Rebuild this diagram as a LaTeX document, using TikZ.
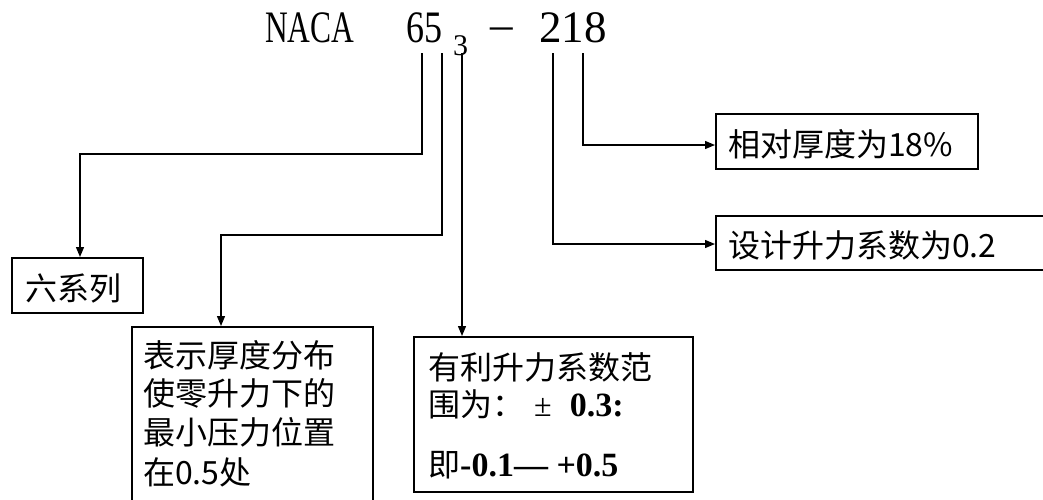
\documentclass[tikz,border=0pt]{standalone}
\usepackage{fontspec}
\usetikzlibrary{arrows.meta}
\newfontfamily\cjk{Noto Sans CJK SC}
\newfontfamily\tnr{Liberation Serif}
\newfontfamily\tnrc[FakeStretch=0.7]{Liberation Serif}
\newfontfamily\tnrd[FakeStretch=0.8]{Liberation Serif}
\begin{document}
\begin{tikzpicture}[x=1pt,y=-1pt,
  conn/.style={line width=1.3pt, -{Triangle[length=10pt,width=8pt]}},
  box/.style={draw, line width=2.4pt, inner sep=0pt},
  txt/.style={font=\cjk\fontsize{32}{39}\selectfont, anchor=base west, inner sep=0pt},
  bnum/.style={font=\tnr\bfseries\fontsize{34}{34}\selectfont},
  ttl/.style={anchor=base west, inner sep=0pt}]
\clip (0,0) rectangle (1043,499);
% title
\node[ttl, font=\tnrc\fontsize{45}{45}\selectfont] (naca) at (265,42) {NACA};
\node[ttl, font=\tnrd\fontsize{45}{45}\selectfont] (d65) at (406,42) {65};
\node[ttl, font=\tnr\fontsize{30}{30}\selectfont] (sub) at (453,55) {3};
\node[ttl, font=\tnr\fontsize{45}{45}\selectfont] (dash) at (490,39) {–};
\node[ttl, font=\tnr\fontsize{45}{45}\selectfont] (d218) at (539,42) {218};
% boxes
\node[box, minimum width=131pt, minimum height=55pt, anchor=north west] (b1) at (11,257) {};
\node[box, minimum width=241pt, minimum height=250pt, anchor=north west] (b2) at (131,326) {};
\node[box, minimum width=279pt, minimum height=155pt, anchor=north west] (b3) at (413,336) {};
\node[box, minimum width=262pt, minimum height=55pt, anchor=north west] (b4) at (715,113) {};
\node[box, minimum width=360pt, minimum height=54pt, anchor=north west] (b5) at (715,215) {};
% texts
\node[txt] (l1) at (25,300) {六系列};
\node[txt] (l2a) at (143,367) {表示厚度分布};
\node[txt] (l2b) at (143,405) {使零升力下的};
\node[txt] (l2c) at (143,444) {最小压力位置};
\node[txt] (l2d) at (143,484) {在0.5处};
\node[txt] (l3a) at (428,379) {有利升力系数范};
\node[txt] (l3b) at (428,416) {围为：\hspace{10pt}{\tnr ±}\hspace{18pt}{\tnr\bfseries\fontsize{34}{34}\selectfont 0.3:}};
\node[txt] (l3c) at (428,476) {即{\tnr\bfseries\fontsize{34}{34}\selectfont -0.1— +0.5}};
\node[txt] (l4) at (728,156) {相对厚度为18\%};
\node[txt] (l5) at (728,257) {设计升力系数为0.2};
% connectors
\coordinate (t1) at (422,53);
\coordinate (t2) at (442,53);
\coordinate (t3) at (462,53);
\coordinate (t4) at (553,53);
\coordinate (t5) at (583,53);
\draw[conn] (t1) |- (80,154) -- (80,154 |- b1.north);
\draw[conn] (t2) |- (221,235) -- (221,235 |- b2.north);
\draw[conn] (t3) -- (t3 |- b3.north);
\draw[conn] (t4) |- (b5.west |- 0,244);
\draw[conn] (t5) |- (b4.west |- 0,145);
\end{tikzpicture}
\end{document}
